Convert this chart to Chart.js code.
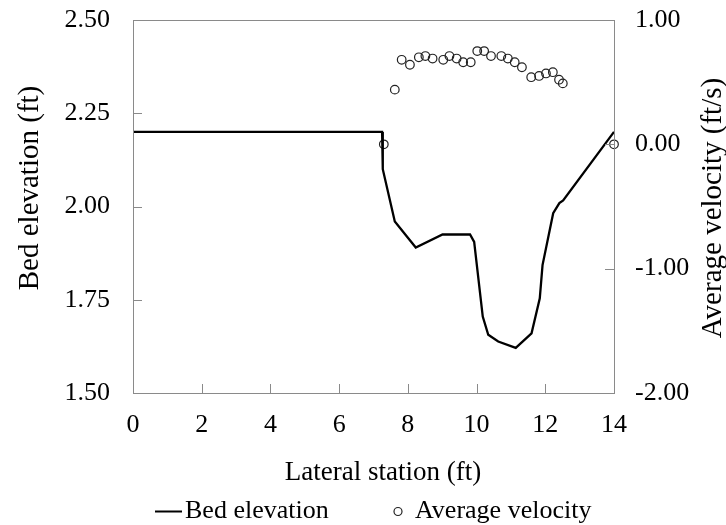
<!DOCTYPE html>
<html>
<head>
<meta charset="utf-8">
<title>Bed elevation and average velocity</title>
<script src="https://cdn.jsdelivr.net/npm/chart.js@4.4.1/dist/chart.umd.min.js"></script>
<style>
  html, body { margin: 0; padding: 0; background: #fff; }
  canvas { display: block; }
</style>
</head>
<body>
<canvas id="bedChart" width="726" height="525"></canvas>
<script>
// cross-section survey: lateral station (ft) vs bed elevation (ft)
const bedStation   = [0, 7.25, 7.27, 7.62, 8.23, 9.01, 9.81, 9.93, 10.18, 10.34, 10.63, 11.14, 11.60, 11.84, 11.92, 12.23, 12.41, 12.52, 14.0];
const bedElevation = [2.20, 2.20, 2.10, 1.96, 1.89, 1.925, 1.925, 1.905, 1.705, 1.656, 1.638, 1.621, 1.660, 1.754, 1.843, 1.982, 2.009, 2.016, 2.20];

// depth-averaged velocity (ft/s) at the measuring verticals
const velStation = [7.30, 7.62, 7.82, 8.06, 8.32, 8.51, 8.72, 9.03, 9.21, 9.42, 9.61, 9.83, 10.02, 10.22, 10.42, 10.72, 10.91, 11.11, 11.32, 11.59, 11.82, 12.02, 12.22, 12.40, 12.51, 14.0];
const velocity   = [0.00, 0.44, 0.68, 0.64, 0.70, 0.71, 0.69, 0.68, 0.71, 0.69, 0.66, 0.66, 0.75, 0.75, 0.71, 0.71, 0.69, 0.66, 0.62, 0.54, 0.55, 0.57, 0.58, 0.52, 0.49, 0.00];

const stationTicks   = [0, 2, 4, 6, 8, 10, 12, 14];
const elevationTicks = [1.5, 1.75, 2.0, 2.25, 2.5];
const velocityTicks  = [-2, -1, 0, 1];

const serif = "'Liberation Serif', 'Times New Roman', serif";
const frameColor = '#8a8a8a';

function xy(xs, ys) {
  return xs.map((x, i) => ({ x: x, y: ys[i] }));
}

// fixed side width; drop the extra top/bottom room chart.js adds for tick padding
function fixWidth(w) {
  return s => {
    s.width = w;
    s.paddingTop = 0;
    s.paddingBottom = 0;
  };
}

// box around the plot, inward tick marks, titles and the legend
const decorations = {
  id: 'decorations',
  afterDraw(chart) {
    const ctx = chart.ctx;
    const a = chart.chartArea;
    const { x, y, y2 } = chart.scales;
    const tick = 9;

    ctx.save();
    ctx.strokeStyle = frameColor;
    ctx.lineWidth = 1;
    ctx.strokeRect(Math.round(a.left) + 0.5, Math.round(a.top) + 0.5,
                   Math.round(a.right - a.left), Math.round(a.bottom - a.top));

    ctx.beginPath();
    x.ticks.forEach(t => {
      const px = Math.round(x.getPixelForValue(t.value)) + 0.5;
      ctx.moveTo(px, a.bottom);
      ctx.lineTo(px, a.bottom - tick);
    });
    y.ticks.forEach(t => {
      const py = Math.round(y.getPixelForValue(t.value)) + 0.5;
      ctx.moveTo(a.left, py);
      ctx.lineTo(a.left + tick, py);
    });
    y2.ticks.forEach(t => {
      const py = Math.round(y2.getPixelForValue(t.value)) + 0.5;
      ctx.moveTo(a.right, py);
      ctx.lineTo(a.right - tick, py);
    });
    ctx.stroke();

    ctx.fillStyle = '#000';
    ctx.textBaseline = 'alphabetic';
    ctx.textAlign = 'center';

    ctx.font = '27px ' + serif;
    ctx.fillText('Lateral station (ft)', 383, 480);

    ctx.font = '29px ' + serif;
    ctx.save();
    ctx.translate(38, 188);
    ctx.rotate(-Math.PI / 2);
    ctx.fillText('Bed elevation (ft)', 0, 0);
    ctx.restore();

    ctx.save();
    ctx.translate(721, 208);
    ctx.rotate(-Math.PI / 2);
    ctx.fillText('Average velocity (ft/s)', 0, 0);
    ctx.restore();

    // legend
    ctx.font = '26px ' + serif;
    ctx.textAlign = 'left';
    ctx.strokeStyle = '#000';
    ctx.lineWidth = 2;
    ctx.beginPath();
    ctx.moveTo(155, 511.5);
    ctx.lineTo(182, 511.5);
    ctx.stroke();
    ctx.fillText('Bed elevation', 185, 518);

    ctx.strokeStyle = '#222';
    ctx.lineWidth = 1.2;
    ctx.beginPath();
    ctx.arc(398, 511.5, 4, 0, Math.PI * 2);
    ctx.stroke();
    ctx.fillText('Average velocity', 415, 518);
    ctx.restore();
  }
};

new Chart(document.getElementById('bedChart'), {
  type: 'scatter',
  data: {
    datasets: [
      {
        label: 'Bed elevation',
        data: xy(bedStation, bedElevation),
        showLine: true,
        borderColor: '#000',
        borderWidth: 2.3,
        pointRadius: 0,
        tension: 0,
        yAxisID: 'y',
        clip: false
      },
      {
        label: 'Average velocity',
        data: xy(velStation, velocity),
        showLine: false,
        pointStyle: 'circle',
        pointRadius: 4.3,
        pointBorderWidth: 1.2,
        borderColor: '#222',
        backgroundColor: 'rgba(255,255,255,0)',
        yAxisID: 'y2',
        clip: false
      }
    ]
  },
  options: {
    responsive: false,
    animation: false,
    layout: { padding: { top: 20, bottom: 0, left: 0, right: 0 } },
    plugins: {
      legend: { display: false },
      tooltip: { enabled: false }
    },
    scales: {
      x: {
        type: 'linear',
        min: 0,
        max: 14,
        grid: { display: false, drawTicks: false },
        border: { display: false },
        afterBuildTicks: s => { s.ticks = stationTicks.map(v => ({ value: v })); },
        afterFit: s => { s.height = 132; },
        ticks: {
          color: '#000',
          padding: 17,
          maxRotation: 0,
          font: { family: serif, size: 26 }
        }
      },
      y: {
        position: 'left',
        min: 1.5,
        max: 2.5,
        grid: { display: false, drawTicks: false },
        border: { display: false },
        afterBuildTicks: s => { s.ticks = elevationTicks.map(v => ({ value: v })); },
        afterFit: fixWidth(133),
        ticks: {
          color: '#000',
          padding: 23,
          font: { family: serif, size: 26 },
          callback: v => v.toFixed(2)
        }
      },
      y2: {
        position: 'right',
        min: -2,
        max: 1,
        grid: { display: false, drawTicks: false },
        border: { display: false },
        afterBuildTicks: s => { s.ticks = velocityTicks.map(v => ({ value: v })); },
        afterFit: fixWidth(112),
        ticks: {
          color: '#000',
          padding: 21,
          font: { family: serif, size: 26 },
          callback: v => v.toFixed(2)
        }
      }
    }
  },
  plugins: [decorations]
});
</script>
</body>
</html>
